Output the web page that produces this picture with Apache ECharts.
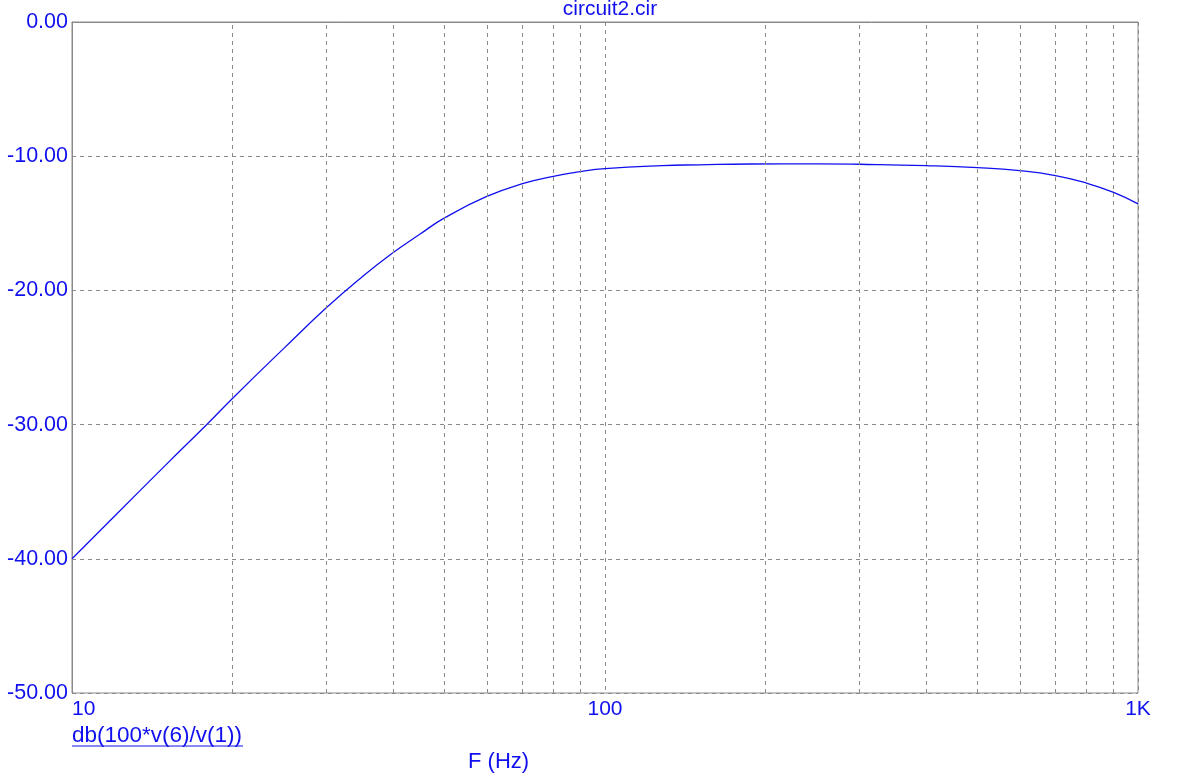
<!DOCTYPE html>
<html>
<head>
<meta charset="utf-8">
<script src="https://cdn.jsdelivr.net/npm/echarts@6/dist/echarts.min.js"></script>
<style>html,body{margin:0;padding:0;background:#fff}#c{width:1187px;height:775px}</style>
</head>
<body>
<div id="c"></div>
<script>
// Frequency (Hz) and gain (dB)
var freq = [10, 12, 15, 18, 20, 25, 30, 35, 40, 45, 50, 60, 70, 80, 90, 100, 128, 150, 187, 250, 300, 400, 500, 600, 700, 800, 900, 1000];
var gain = [-40.0, -36.85, -33.0, -29.9, -28.05, -24.3, -21.3, -19.0, -17.2, -15.8, -14.6, -13.0, -12.05, -11.5, -11.15, -10.93, -10.7, -10.64, -10.58, -10.57, -10.6, -10.7, -10.85, -11.08, -11.45, -12.0, -12.7, -13.55];
var minorGridFreq = [20, 30, 40, 50, 60, 70, 80, 90, 200, 300, 400, 500, 600, 700, 800, 900];
var xTickLabels = {10: '10', 100: '100', 1000: '1K'};
var yMin = -50, yMax = 0, yStep = 10;
var titleText = 'circuit2.cir';
var traceName = 'db(100*v(6)/v(1))';
var xName = 'F (Hz)';

var BLUE = '#1010ee';
var GRIDC = '#8a8a8a';
var FONT = '"Liberation Sans", Arial, sans-serif';

var chart = echarts.init(document.getElementById('c'), null, {renderer: 'canvas'});
var data = freq.map(function (f, i) { return [f, gain[i]]; });

chart.setOption({
  animation: false,
  backgroundColor: '#fff',
  title: {
    text: titleText, left: 605, top: -6, textAlign: 'center',
    textStyle: {color: BLUE, fontFamily: FONT, fontSize: 21, fontWeight: 'normal'}
  },
  grid: {left: 72, right: 49, top: 22, bottom: 82, show: true, borderColor: GRIDC, borderWidth: 1, containLabel: false},
  xAxis: {
    type: 'log', logBase: 10, min: 10, max: 1000,
    axisLine: {show: true, lineStyle: {color: GRIDC, width: 1}},
    axisTick: {show: false},
    minorTick: {show: false},
    splitLine: {show: true, lineStyle: {color: GRIDC, type: [4, 4], width: 1}},
    axisLabel: {
      color: BLUE, fontFamily: FONT, fontSize: 21, margin: 6,
      alignMinLabel: 'left', alignMaxLabel: 'center',
      formatter: function (v) { return xTickLabels[Math.round(v)] || ''; }
    }
  },
  yAxis: {
    type: 'value', min: yMin, max: yMax, interval: yStep,
    axisLine: {show: true, lineStyle: {color: GRIDC, width: 1}},
    axisTick: {show: false},
    splitLine: {show: true, lineStyle: {color: GRIDC, type: [4, 4], width: 1}},
    axisLabel: {
      color: BLUE, fontFamily: FONT, fontSize: 21.5, margin: 4,
      formatter: function (v) { return v.toFixed(2); }
    }
  },
  graphic: [
    {type: 'text', left: 72, top: 724, style: {text: traceName, fill: BLUE, font: '22.5px ' + FONT}},
    {type: 'line', shape: {x1: 72, y1: 746, x2: 243, y2: 746}, style: {stroke: BLUE, lineWidth: 1}},
    {type: 'text', left: 468, top: 751, style: {text: xName, fill: BLUE, font: '22px ' + FONT}}
  ],
  series: [{
    type: 'line', data: data, smooth: 0.5, showSymbol: false, symbol: 'none',
    lineStyle: {color: BLUE, width: 1.3},
    markLine: {
      silent: true, symbol: 'none', label: {show: false},
      lineStyle: {color: GRIDC, type: [4, 4], width: 1},
      data: minorGridFreq.map(function (f) { return {xAxis: f}; })
    }
  }]
});
</script>
</body>
</html>
